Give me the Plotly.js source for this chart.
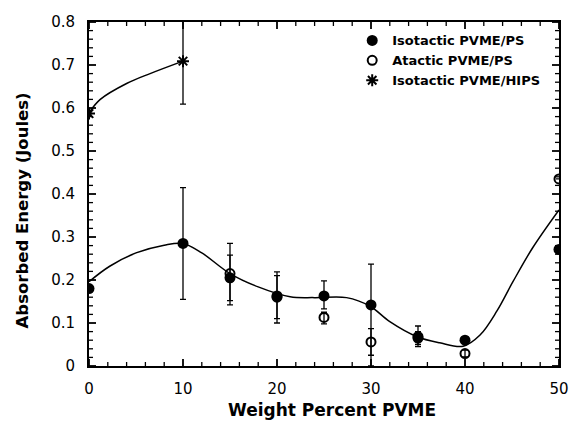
<!DOCTYPE html>
<html>
<head>
<meta charset="utf-8">
<script src="https://cdn.plot.ly/plotly-3.0.1.min.js"></script>
<style>html,body{margin:0;padding:0;background:#fff;}#chart{width:569px;height:424px;}</style>
</head>
<body>
<div id="chart"></div>
<script>
// Isotactic PVME/PS (filled)
const isoX = [0, 10, 15, 20, 25, 30, 35, 40, 50];
const isoY = [0.180, 0.285, 0.205, 0.163, 0.163, 0.142, 0.068, 0.060, 0.271];
const isoErrPlus = [0, 0.130, 0.080, 0.056, 0.035, 0.095, 0.025, 0, 0];
const isoErrMinus = [0, 0.130, 0.063, 0.063, 0.030, 0.142, 0.023, 0, 0];

// Atactic PVME/PS (open)
const ataX = [15, 20, 25, 30, 35, 40, 50];
const ataY = [0.215, 0.160, 0.113, 0.056, 0.065, 0.029, 0.435];
const ataErrPlus = [0.043, 0.05, 0.012, 0.031, 0.015, 0.008, 0];
const ataErrMinus = [0.063, 0.05, 0.015, 0.031, 0.015, 0.008, 0];

// Isotactic PVME/HIPS (asterisk)
const hipsX = [0, 10];
const hipsY = [0.587, 0.709];
const hipsErrPlus = [0, 0.10];
const hipsErrMinus = [0, 0.10];

// Smooth fitted curves
const fitX = [0, 2.2, 5, 8, 10, 12, 15, 18, 21.4, 24, 27.4, 29.9, 32, 34.9, 37.3, 39.8, 41.6, 43.4, 45.1, 47.2, 50];
const fitY = [0.196, 0.232, 0.263, 0.281, 0.285, 0.263, 0.215, 0.184, 0.161, 0.159, 0.159, 0.139, 0.103, 0.068, 0.054, 0.046, 0.072, 0.128, 0.196, 0.275, 0.363];
const hipsFitX = [0, 1.2, 4, 6.5, 10];
const hipsFitY = [0.589, 0.620, 0.657, 0.680, 0.709];

// Axis ticks
const xMajorTicks = [0, 10, 20, 30, 40, 50];
const xMinorTicks = [2, 4, 6, 8, 12, 14, 16, 18, 22, 24, 26, 28, 32, 34, 36, 38, 42, 44, 46, 48];
const yMajorTicks = [0, 0.1, 0.2, 0.3, 0.4, 0.5, 0.6, 0.7, 0.8];
const yMinorTicks = [0.02, 0.04, 0.06, 0.08, 0.12, 0.14, 0.16, 0.18, 0.22, 0.24, 0.26, 0.28,
                     0.32, 0.34, 0.36, 0.38, 0.42, 0.44, 0.46, 0.48, 0.52, 0.54, 0.56, 0.58,
                     0.62, 0.64, 0.66, 0.68, 0.72, 0.74, 0.76, 0.78];

const xTitle = 'Weight Percent PVME';
const yTitle = 'Absorbed Energy (Joules)';

const W = 569, H = 424, M = {l: 89, r: 10, t: 22, b: 58};
const plotW = W - M.l - M.r, plotH = H - M.t - M.b;
const xRange = [0, 50], yRange = [0, 0.8];
const majLen = 7, minLen = 4;
const dxPer = (xRange[1] - xRange[0]) / plotW, dyPer = (yRange[1] - yRange[0]) / plotH;

// Tick marks drawn as error-bar stubs anchored on the four frame sides
function xSideTicks(vals, len, width) {
  const L = len * dyPer;
  const xs = vals.concat(vals);
  const ys = vals.map(() => yRange[0]).concat(vals.map(() => yRange[1]));
  const plus = vals.map(() => L).concat(vals.map(() => 0));
  const minus = vals.map(() => 0).concat(vals.map(() => L));
  return {x: xs, y: ys, mode: 'markers', marker: {size: 1, color: 'rgba(0,0,0,0)'}, showlegend: false, hoverinfo: 'skip',
          cliponaxis: false,
          error_y: {type: 'data', symmetric: false, array: plus, arrayminus: minus, width: 0, thickness: width, color: '#000'}};
}
function ySideTicks(vals, len, width) {
  const L = len * dxPer;
  const ys = vals.concat(vals);
  const xs = vals.map(() => xRange[0]).concat(vals.map(() => xRange[1]));
  const plus = vals.map(() => L).concat(vals.map(() => 0));
  const minus = vals.map(() => 0).concat(vals.map(() => L));
  return {x: xs, y: ys, mode: 'markers', marker: {size: 1, color: 'rgba(0,0,0,0)'}, showlegend: false, hoverinfo: 'skip',
          cliponaxis: false,
          error_x: {type: 'data', symmetric: false, array: plus, arrayminus: minus, width: 0, thickness: width, color: '#000'}};
}

const errStyle = {type: 'data', symmetric: false, color: '#000', thickness: 1.3, width: 3};

const traces = [
  xSideTicks(xMajorTicks, majLen, 1.8),
  xSideTicks(xMinorTicks, minLen, 1.3),
  ySideTicks(yMajorTicks, majLen, 1.8),
  ySideTicks(yMinorTicks, minLen, 1.3),
  {x: fitX, y: fitY, mode: 'lines', line: {shape: 'spline', smoothing: 1, color: '#000', width: 1.5}, showlegend: false, hoverinfo: 'skip'},
  {x: hipsFitX, y: hipsFitY, mode: 'lines', line: {shape: 'spline', smoothing: 1, color: '#000', width: 1.5}, showlegend: false, hoverinfo: 'skip'},
  {x: ataX, y: ataY, mode: 'markers', name: 'Atactic PVME/PS', showlegend: false,
   marker: {symbol: 'circle-open', size: 9, color: '#000', line: {width: 2, color: '#000'}},
   error_y: Object.assign({array: ataErrPlus, arrayminus: ataErrMinus}, errStyle)},
  {x: isoX, y: isoY, mode: 'markers', name: 'Isotactic PVME/PS', showlegend: false,
   marker: {symbol: 'circle', size: 11, color: '#000'},
   error_y: Object.assign({array: isoErrPlus, arrayminus: isoErrMinus}, errStyle)},
  {x: hipsX, y: hipsY, mode: 'markers', name: 'Isotactic PVME/HIPS', showlegend: false,
   marker: {symbol: 'asterisk-open', size: 10, color: '#000', line: {width: 2, color: '#000'}},
   error_y: Object.assign({array: hipsErrPlus, arrayminus: hipsErrMinus}, errStyle)},
  // legend entries
  {x: [null], y: [null], mode: 'markers', name: 'Isotactic PVME/PS', marker: {symbol: 'circle', size: 11, color: '#000'}},
  {x: [null], y: [null], mode: 'markers', name: 'Atactic PVME/PS', marker: {symbol: 'circle-open', size: 9, color: '#000', line: {width: 2, color: '#000'}}},
  {x: [null], y: [null], mode: 'markers', name: 'Isotactic PVME/HIPS', marker: {symbol: 'asterisk-open', size: 10, color: '#000', line: {width: 2, color: '#000'}}}
];

const axisFont = {family: 'DejaVu Sans, Arial, sans-serif', size: 15, color: '#000'};
const titleFont = {family: 'DejaVu Sans, Arial, sans-serif', size: 16.5, color: '#000', weight: 'bold'};

const layout = {
  width: W, height: H,
  margin: M,
  paper_bgcolor: '#fff', plot_bgcolor: '#fff',
  showlegend: true,
  legend: {x: 0.56, y: 0.99, xanchor: 'left', yanchor: 'top', bgcolor: 'rgba(0,0,0,0)',
           font: {family: 'DejaVu Sans, Arial, sans-serif', size: 13, color: '#000', weight: 'bold'},
           itemsizing: 'trace', tracegroupgap: 0},
  xaxis: {
    range: xRange, tickvals: xMajorTicks, ticks: '',
    showline: true, linecolor: '#000', linewidth: 2, mirror: true, showgrid: false, zeroline: false,
    tickfont: axisFont, ticklabelstandoff: 8
  },
  yaxis: {
    range: yRange, tickvals: yMajorTicks, ticks: '',
    showline: true, linecolor: '#000', linewidth: 2, mirror: true, showgrid: false, zeroline: false,
    tickfont: axisFont, ticklabelstandoff: 9
  },
  annotations: [
    {text: xTitle, xref: 'paper', yref: 'paper', x: 0.516, y: -0.128, xanchor: 'center', yanchor: 'middle',
     showarrow: false, font: Object.assign({}, titleFont, {size: 17})},
    {text: yTitle, xref: 'paper', yref: 'paper', x: -0.142, y: 0.453, xanchor: 'center', yanchor: 'middle',
     textangle: -90, showarrow: false, font: titleFont}
  ]
};

Plotly.newPlot('chart', traces, layout, {displayModeBar: false, staticPlot: true});
</script>
</body>
</html>
